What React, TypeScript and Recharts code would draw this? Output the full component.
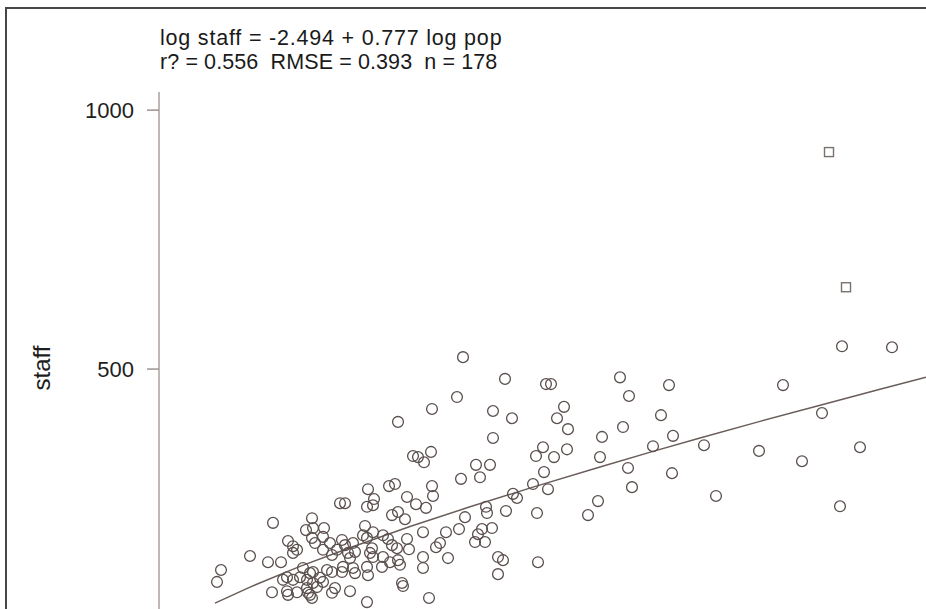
import React from 'react';
import { ScatterChart, Scatter, XAxis, YAxis } from 'recharts';

// population (thousands) and staff for each observation
const circlePop = [
  1824, 2076, 2322, 2352, 2766, 3060, 1788, 1638, 2004, 2118,
  2388, 2430, 2820, 3012, 2454, 2658, 2784, 3084, 2004, 1524,
  1554, 1632, 1590, 2304, 2262, 2370, 2448, 2964, 2646, 1902,
  1986, 2310, 2814, 3078, 1812, 1926, 1638, 1644, 1488, 1542,
  1602, 1476, 2244, 2334, 2838, 2124, 2148, 1962, 1968, 2082,
  1836, 2268, 2634, 2574, 1584, 1722, 1800, 1938, 1998, 1914,
  1896, 1956, 1686, 1662, 1500, 1584, 1734, 2034, 2064, 2274,
  1584, 2034, 1464, 1620, 1434, 1254, 1380, 1416, 1290, 1248,
  1284, 1086, 1116, 1398, 1434, 918, 684, 882, 924, 990,
  1236, 774, 804, 828, 804, 918, 936, 984, 1026, 1098,
  1116, 1134, 1146, 984, 1068, 1038, 1224, 1248, 1284, 1344,
  1374, 1398, 1428, 1488, 1164, 1176, 1278, 1266, 1284, 1344,
  1386, 1434, 1446, 546, 654, 732, 372, 348, 864, 906,
  924, 846, 888, 966, 1008, 1038, 1098, 1104, 1164, 1176,
  1248, 1254, 1338, 768, 744, 804, 888, 894, 924, 948,
  678, 768, 774, 828, 906, 918, 1038, 1056, 1146, 1248,
  1458, 984, 4098, 4398, 3744, 3978, 3270, 3600, 3858, 4206,
  3342, 4086,
];

const circleStaff = [
  523, 481, 471, 471, 484, 469, 446, 423, 419, 405,
  405, 427, 448, 411, 384, 369, 388, 371, 367, 332,
  330, 340, 320, 349, 332, 330, 345, 351, 330, 315,
  315, 301, 309, 299, 288, 291, 274, 255, 253, 239,
  232, 210, 278, 268, 272, 259, 251, 234, 222, 226,
  214, 222, 245, 218, 185, 185, 191, 191, 193, 181,
  166, 166, 164, 156, 152, 137, 135, 137, 131, 127,
  116, 104, 81, 58, 398, 268, 274, 278, 249, 234,
  237, 241, 241, 218, 224, 212, 203, 189, 193, 193,
  197, 168, 158, 151, 145, 174, 164, 176, 164, 170,
  160, 145, 135, 151, 151, 141, 179, 174, 185, 179,
  172, 160, 154, 172, 164, 147, 154, 145, 137, 137,
  127, 131, 122, 139, 127, 127, 112, 89, 116, 106,
  108, 98, 93, 97, 112, 108, 108, 118, 116, 106,
  118, 102, 118, 98, 93, 93, 77, 68, 87, 79,
  69, 71, 64, 69, 64, 58, 68, 77, 71, 50,
  87, 89, 544, 542, 469, 415, 353, 342, 322, 349,
  255, 235,
];

// two outlying observations drawn with square markers
const squarePop = [4020, 4122];
const squareStaff = [919, 658];

// fitted curve
const fitPop = [336, 546, 846, 1146, 1506, 1866, 2244, 2646, 2964, 3246, 3606, 3978, 4326, 4602];
const fitStaff = [48, 79, 119, 155, 196, 234, 272, 311, 341, 367, 399, 431, 461, 484];

const yTicks = [500, 1000];
const titleLines = [
  'log staff = -2.494 + 0.777 log pop',
  'r? = 0.556  RMSE = 0.393  n = 178',
];
const yLabel = 'staff';

const circleData = circlePop.map((p, i) => ({ pop: p, staff: circleStaff[i] }));
const squareData = squarePop.map((p, i) => ({ pop: p, staff: squareStaff[i] }));
const fitData = fitPop.map((p, i) => ({ pop: p, staff: fitStaff[i] }));

const FONT = '"Liberation Sans", Arial, Helvetica, sans-serif';
const MARK = '#5a4f4c';

const CircleShape = (props: any) => (
  <circle cx={props.cx} cy={props.cy} r={5.4} fill="none" stroke={MARK} strokeWidth={1.3} />
);
const SquareShape = (props: any) => (
  <rect x={props.cx - 4.5} y={props.cy - 4.5} width={9} height={9} fill="none" stroke="#7a706c" strokeWidth={1.4} />
);
const NoShape = () => <g />;

const StaffLabel = () => (
  <text
    x={41}
    y={368}
    transform="rotate(-90 41 368)"
    textAnchor="middle"
    dominantBaseline="central"
    fill="#1e1e1e"
    fontSize={24}
    fontFamily={FONT}
  >
    {yLabel}
  </text>
);

const lineSpacing = [0.8, 0.1];

export default function App() {
  return (
    <div
      style={{
        position: 'fixed',
        left: 0,
        top: 0,
        width: 926,
        height: 609,
        overflow: 'hidden',
        background: '#ffffff',
      }}
    >
      <div
        style={{
          position: 'absolute',
          left: 5,
          top: 7,
          right: -10,
          bottom: -10,
          borderTop: '2px solid #474747',
          borderLeft: '2px solid #474747',
        }}
      />
      <div style={{ position: 'absolute', left: 0, top: 0 }}>
        <ScatterChart width={926} height={640} margin={{ top: 92, right: 0, bottom: 12, left: 79 }}>
          <XAxis type="number" dataKey="pop" domain={[0, 4602]} hide />
          <YAxis
            type="number"
            dataKey="staff"
            domain={[0, 1035]}
            ticks={yTicks}
            width={80}
            tickSize={12}
            tickMargin={13}
            axisLine={{ stroke: '#ad9f9c', strokeWidth: 1.5 }}
            tickLine={{ stroke: '#9d9391', strokeWidth: 1.5 }}
            tick={{ fill: '#1e1e1e', fontSize: 22, fontFamily: FONT }}
            label={StaffLabel}
          />
          <Scatter data={fitData} line={{ stroke: '#685d59', strokeWidth: 1.5 }} shape={NoShape} isAnimationActive={false} />
          <Scatter data={circleData} shape={CircleShape} isAnimationActive={false} />
          <Scatter data={squareData} shape={SquareShape} isAnimationActive={false} />
        </ScatterChart>
      </div>
      <div
        style={{
          position: 'absolute',
          left: 160,
          top: 26,
          fontFamily: FONT,
          fontSize: 21.5,
          lineHeight: '24px',
          color: '#1a1a1a',
          whiteSpace: 'pre',
        }}
      >
        {titleLines.map((t, i) => (
          <div key={t} style={{ letterSpacing: lineSpacing[i] }}>
            {t}
          </div>
        ))}
      </div>
    </div>
  );
}
